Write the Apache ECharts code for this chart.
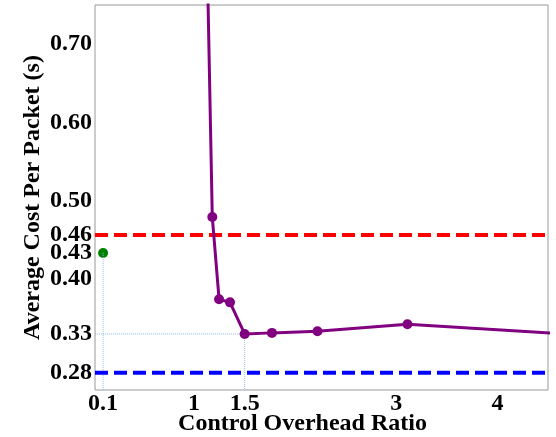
<!DOCTYPE html>
<html>
<head>
<meta charset="utf-8">
<script src="https://cdn.jsdelivr.net/npm/echarts@6/dist/echarts.min.js"></script>
<style>html,body{margin:0;padding:0;background:#fff;}#c{width:556px;height:437px;}</style>
</head>
<body>
<div id="c"></div>
<script>
// Data
const costX = [1.1, 1.18, 1.247, 1.355, 1.5, 1.77, 2.22, 3.11, 5.0];
const costY = [1.0, 0.479, 0.374, 0.370, 0.3296, 0.331, 0.333, 0.342, 0.327];
const greenX = [0.1];
const greenY = [0.433];
const redLevel = 0.456;
const blueLevel = 0.28;
const xRange = [0.02, 4.5];
const yRange = [0.258, 0.75];
const xTickValues = [0.1, 1, 1.5, 3, 4];
const xTickLabels = ['0.1', '1', '1.5', '3', '4'];
const yTickValues = [0.28, 0.33, 0.40, 0.433, 0.456, 0.50, 0.60, 0.70];
const yTickLabels = ['0.28', '0.33', '0.40', '0.43', '0.46', '0.50', '0.60', '0.70'];

function pickLabel(vals, labels, v) {
  let best = 0, d = Infinity;
  vals.forEach((t, i) => { const dd = Math.abs(t - v); if (dd < d) { d = dd; best = i; } });
  return labels[best];
}

const font = 'Liberation Serif';
const chart = echarts.init(document.getElementById('c'));
const guideStyle = { color: '#8fb9e6', width: 1, type: 'dotted' };

chart.setOption({
  animation: false,
  grid: { left: 95, right: 8, top: 5, bottom: 47, show: true, borderColor: '#999', borderWidth: 1,
          containLabel: false, outerBoundsMode: 'none' },
  xAxis: {
    type: 'value', min: xRange[0], max: xRange[1],
    splitLine: { show: false }, axisLine: { show: false }, axisTick: { show: false },
    axisLabel: {
      customValues: xTickValues, margin: 2,
      fontFamily: font, fontWeight: 'bold', fontSize: 24, color: '#000',
      formatter: v => pickLabel(xTickValues, xTickLabels, v)
    },
    name: 'Control Overhead Ratio', nameLocation: 'middle', nameGap: 22, nameMoveOverlap: false,
    nameTextStyle: { fontFamily: font, fontWeight: 'bold', fontSize: 24, color: '#000', padding: [0, 38, 0, 0] }
  },
  yAxis: {
    type: 'value', min: yRange[0], max: yRange[1],
    splitLine: { show: false }, axisLine: { show: false }, axisTick: { show: false },
    axisLabel: {
      customValues: yTickValues, margin: 3,
      fontFamily: font, fontWeight: 'bold', fontSize: 24, color: '#000',
      formatter: v => pickLabel(yTickValues, yTickLabels, v)
    },
    name: 'Average Cost Per Packet (s)', nameLocation: 'middle', nameGap: 50, nameMoveOverlap: false,
    nameTextStyle: { fontFamily: font, fontWeight: 'bold', fontSize: 24, color: '#000' }
  },
  series: [
    { type: 'line', silent: true, symbol: 'none', lineStyle: guideStyle,
      data: [[greenX[0], greenY[0]], [greenX[0], yRange[0]]] },
    { type: 'line', silent: true, symbol: 'none', lineStyle: guideStyle,
      data: [[costX[4], costY[4]], [costX[4], yRange[0]]] },
    { type: 'line', silent: true, symbol: 'none', lineStyle: guideStyle,
      data: [[xRange[0], costY[4]], [costX[4], costY[4]]] },
    { type: 'line', silent: true, symbol: 'none',
      lineStyle: { color: '#ff0000', width: 4, type: [13, 6] },
      data: [[xRange[0], redLevel], [xRange[1], redLevel]] },
    { type: 'line', silent: true, symbol: 'none',
      lineStyle: { color: '#0000ff', width: 4, type: [13, 6] },
      data: [[xRange[0], blueLevel], [xRange[1], blueLevel]] },
    { type: 'scatter', silent: true, symbol: 'circle', symbolSize: 10,
      itemStyle: { color: '#008000', opacity: 1 },
      data: greenX.map((x, i) => [x, greenY[i]]) },
    { type: 'line', silent: true, clip: true, symbol: 'circle', symbolSize: 10, showAllSymbol: true,
      lineStyle: { color: '#800080', width: 3 },
      itemStyle: { color: '#800080', opacity: 1 },
      data: costX.map((x, i) => [x, costY[i]]) }
  ]
});
</script>
</body>
</html>
